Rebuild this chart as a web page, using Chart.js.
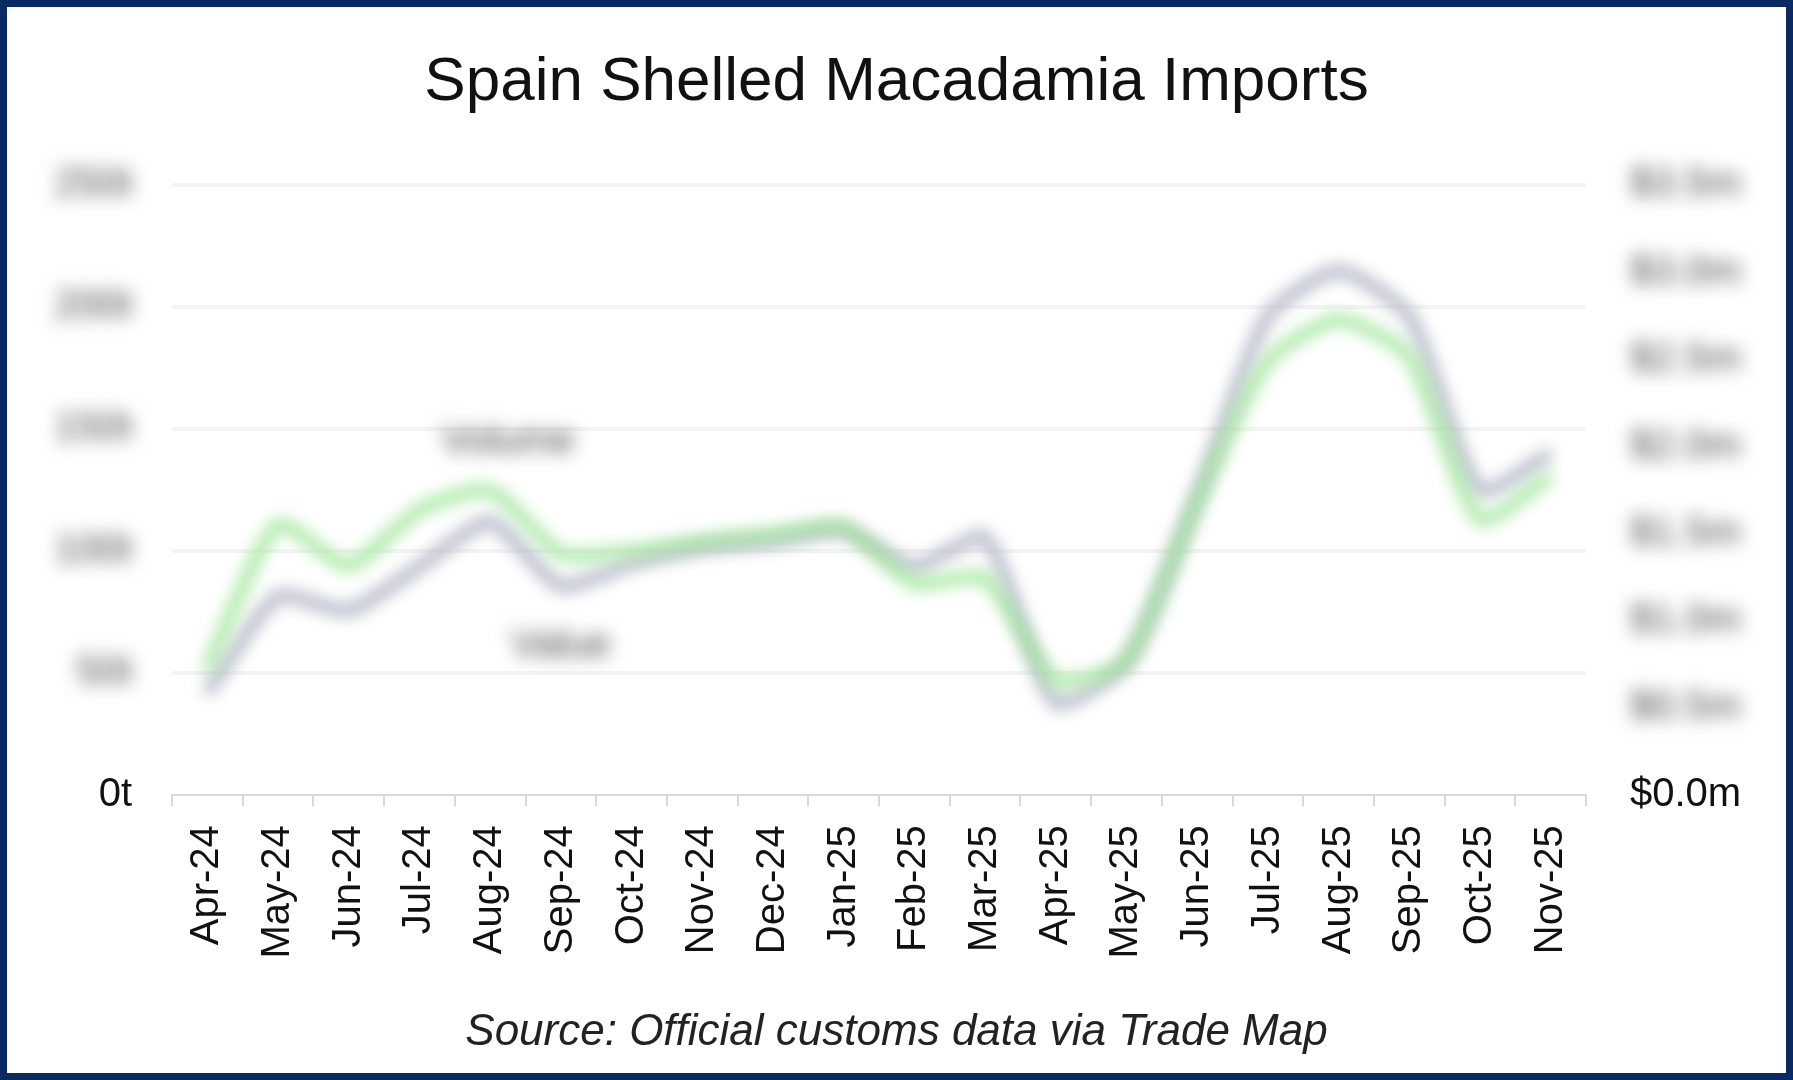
<!DOCTYPE html>
<html>
<head>
<meta charset="utf-8">
<title>Spain Shelled Macadamia Imports</title>
<script src="https://cdn.jsdelivr.net/npm/chart.js@4.4.1/dist/chart.umd.min.js"></script>
<style>
  html, body { margin: 0; padding: 0; background: #fff; }
  #frame {
    width: 1793px; height: 1080px; box-sizing: border-box;
    border: 7px solid #0a2b62; background: #fff; position: relative;
  }
  #wrap { width: 1779px; height: 1066px; position: relative; }
</style>
</head>
<body>
<div id="frame"><div id="wrap"><canvas id="chart"></canvas></div></div>
<script>
// months shown on the x axis
const months = ['Apr-24','May-24','Jun-24','Jul-24','Aug-24','Sep-24','Oct-24','Nov-24','Dec-24','Jan-25',
                'Feb-25','Mar-25','Apr-25','May-25','Jun-25','Jul-25','Aug-25','Sep-25','Oct-25','Nov-25'];
// volume in tonnes (left axis)
const volume = [52, 111, 94, 117, 125, 99, 100, 104, 107, 110, 87, 89, 47, 55, 120, 178, 195, 180, 113, 131];
// value in $m (right axis)
const value = [0.59, 1.14, 1.06, 1.31, 1.57, 1.20, 1.33, 1.42, 1.46, 1.52, 1.31, 1.48, 0.53, 0.76, 1.71, 2.75, 3.01, 2.75, 1.75, 1.96];
// axis ranges
const volumeTicks = { min: 0, max: 250, step: 50 };
const valueTicks = { min: 0, max: 3.5, step: 0.5 };

const tickFont = { family: '"Liberation Sans", Arial, sans-serif', size: 40 };

// the lines are soft / blurred in the picture
const blurLines = {
  id: 'blurLines',
  beforeDatasetDraw(chart) {
    chart.ctx.save();
    chart.ctx.filter = 'blur(8px)';
  },
  afterDatasetDraw(chart) {
    chart.ctx.restore();
  }
};

// axis labels other than zero, and series names, are blurred out
const blurText = {
  id: 'blurText',
  afterDraw(chart) {
    const ctx = chart.ctx;
    const y = chart.scales.y, y1 = chart.scales.y1, x = chart.scales.x;
    ctx.save();
    ctx.filter = 'blur(9px)';
    ctx.fillStyle = '#4a4a4a';
    ctx.font = '40px "Liberation Sans", Arial, sans-serif';
    ctx.textBaseline = 'middle';
    ctx.textAlign = 'right';
    y.ticks.forEach(t => {
      if (t.value !== 0) ctx.fillText(t.label, y.right - 40, y.getPixelForValue(t.value));
    });
    ctx.textAlign = 'left';
    y1.ticks.forEach(t => {
      if (t.value !== 0) ctx.fillText(t.label, y1.left + 44, y1.getPixelForValue(t.value));
    });
    ctx.textAlign = 'center';
    ctx.fillText('Volume', x.getPixelForValue(4) + 18, y.getPixelForValue(volume[4]) - 48);
    ctx.fillText('Value', x.getPixelForValue(5), y1.getPixelForValue(value[5]) + 60);
    ctx.restore();
  }
};

new Chart(document.getElementById('chart'), {
  type: 'line',
  data: {
    labels: months,
    datasets: [
      {
        label: 'Volume',
        data: volume,
        yAxisID: 'y',
        borderColor: '#9ae594',
        borderWidth: 11,
        pointRadius: 0,
        tension: 0.2
      },
      {
        label: 'Value',
        data: value,
        yAxisID: 'y1',
        borderColor: '#a9adc0',
        borderWidth: 11,
        pointRadius: 0,
        tension: 0.2
      }
    ]
  },
  options: {
    responsive: true,
    maintainAspectRatio: false,
    devicePixelRatio: 1,
    animation: false,
    events: [],
    layout: { padding: 0 },
    plugins: {
      legend: { display: false },
      tooltip: { enabled: false },
      title: {
        display: true,
        text: 'Spain Shelled Macadamia Imports',
        color: '#111',
        font: { family: '"Liberation Sans", Arial, sans-serif', size: 62, weight: 'normal' },
        padding: { top: 39, bottom: 65 }
      },
      subtitle: {
        display: true,
        position: 'bottom',
        text: 'Source: Official customs data via Trade Map',
        color: '#222',
        font: { family: '"Liberation Sans", Arial, sans-serif', size: 44, style: 'italic' },
        padding: { top: 0, bottom: 14 }
      }
    },
    scales: {
      x: {
        offset: true,
        grid: { display: true, drawOnChartArea: false, offset: true, tickLength: 11, color: '#d9d9d9', lineWidth: 2 },
        border: { display: true, color: '#d9d9d9', width: 2 },
        ticks: { color: '#111', font: tickFont, maxRotation: 90, minRotation: 90, padding: 19, autoSkip: false },
        afterFit(s) { s.height = 211; }
      },
      y: {
        position: 'left',
        min: volumeTicks.min,
        max: volumeTicks.max,
        border: { display: false },
        grid: {
          drawTicks: false,
          lineWidth: 4,
          color: c => c.tick && c.tick.value === 0 ? 'rgba(0,0,0,0)' : '#f4f4f4'
        },
        ticks: {
          stepSize: volumeTicks.step,
          padding: 40,
          font: tickFont,
          color: c => c.tick.value === 0 ? '#111' : 'rgba(0,0,0,0)',
          callback: v => v + 't'
        },
        afterFit(s) { s.width = 165; }
      },
      y1: {
        position: 'right',
        min: valueTicks.min,
        max: valueTicks.max,
        border: { display: false },
        grid: { display: false, drawTicks: false },
        ticks: {
          stepSize: valueTicks.step,
          padding: 44,
          font: tickFont,
          color: c => c.tick.value === 0 ? '#111' : 'rgba(0,0,0,0)',
          callback: v => '$' + v.toFixed(1) + 'm'
        },
        afterFit(s) { s.width = 200; }
      }
    }
  },
  plugins: [blurLines, blurText]
});
</script>
</body>
</html>
